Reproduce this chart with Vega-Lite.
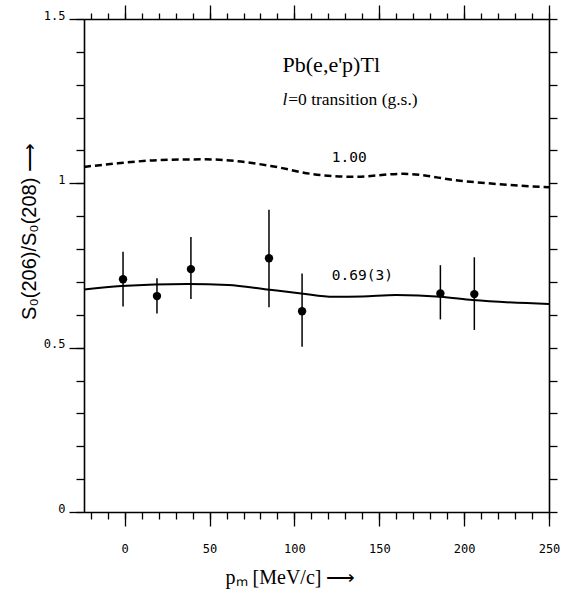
{
  "$schema": "https://vega.github.io/schema/vega-lite/v6.json",
  "width": 465,
  "height": 493,
  "autosize": "none",
  "padding": {"left": 84, "top": 19, "right": 20, "bottom": 86},
  "background": "white",
  "config": {
    "view": {"stroke": null},
    "axis": {"grid": false, "domainColor": "black", "tickColor": "black", "domainWidth": 1.6, "tickWidth": 1.3}
  },
  "resolve": {"axis": {"x": "independent", "y": "independent"}},
  "layer": [
    {
      "data": {"values": [
        {"pm": -1, "r": 0.708, "lo": 0.625, "hi": 0.792},
        {"pm": 19, "r": 0.657, "lo": 0.604, "hi": 0.711},
        {"pm": 39, "r": 0.739, "lo": 0.648, "hi": 0.837},
        {"pm": 85, "r": 0.772, "lo": 0.623, "hi": 0.92},
        {"pm": 104.5, "r": 0.611, "lo": 0.503, "hi": 0.726},
        {"pm": 186, "r": 0.665, "lo": 0.586, "hi": 0.751},
        {"pm": 206, "r": 0.663, "lo": 0.554, "hi": 0.775}
      ]},
      "mark": {"type": "rule", "color": "black", "strokeWidth": 1.5},
      "encoding": {
        "x": {"field": "pm", "type": "quantitative", "scale": {"domain": [-24, 250], "nice": false, "zero": false},
          "axis": {"orient": "bottom",
            "values": [-20,-10,0,10,20,30,40,50,60,70,80,90,100,110,120,130,140,150,160,170,180,190,200,210,220,230,240,250],
            "labels": false, "domain": false, "tickSize": 7, "title": null}},
        "y": {"field": "lo", "type": "quantitative", "scale": {"domain": [0, 1.5], "nice": false, "zero": false},
          "axis": {"orient": "left",
            "values": [0,0.1,0.2,0.3,0.4,0.5,0.6,0.7,0.8,0.9,1,1.1,1.2,1.3,1.4,1.5],
            "labels": false, "domain": false, "tickSize": 8, "title": null}},
        "y2": {"field": "hi"}
      }
    },
    {
      "data": {"values": [
        {"pm": -1, "r": 0.708},
        {"pm": 19, "r": 0.657},
        {"pm": 39, "r": 0.739},
        {"pm": 85, "r": 0.772},
        {"pm": 104.5, "r": 0.611},
        {"pm": 186, "r": 0.665},
        {"pm": 206, "r": 0.663}
      ]},
      "mark": {"type": "point", "filled": true, "shape": "circle", "size": 70, "color": "black", "opacity": 1},
      "encoding": {
        "x": {"field": "pm", "type": "quantitative", "scale": {"domain": [-24, 250], "nice": false, "zero": false},
          "axis": {"orient": "bottom",
            "values": [0, 50, 100, 150, 200, 250],
            "format": "d",
            "tickSize": 14,
            "labelFont": "DejaVu Sans Mono", "labelFontSize": 12, "labelColor": "black",
            "labelPadding": 17, "labelBaseline": "top", "labelFlush": false, "labelOverlap": false,
            "title": "pₘ [MeV/c] ⟶", "titleFont": "Liberation Serif", "titleFontSize": 20, "titleFontWeight": "normal",
            "titleColor": "black", "titleX": 206, "titleY": 71, "titleBaseline": "alphabetic", "titleAlign": "center"}},
        "y": {"field": "r", "type": "quantitative", "scale": {"domain": [0, 1.5], "nice": false, "zero": false},
          "axis": {"orient": "left",
            "values": [0, 0.5, 1, 1.5],
            "format": "~g",
            "tickSize": 15,
            "labelFont": "DejaVu Sans Mono", "labelFontSize": 12, "labelColor": "black",
            "labelPadding": 4, "labelBaseline": "alphabetic", "labelFlush": false, "labelOverlap": false,
            "title": "S₀(206)/S₀(208) ⟶", "titleFont": "Liberation Sans", "titleFontSize": 20, "titleFontWeight": "normal",
            "titleColor": "black", "titleX": -55, "titleY": 212, "titleBaseline": "middle", "titleAlign": "center", "titleAngle": -90}}
      }
    },
    {
      "data": {"values": [
        {"pm": -24, "r": 0.677},
        {"pm": -2, "r": 0.688},
        {"pm": 37, "r": 0.694},
        {"pm": 61, "r": 0.691},
        {"pm": 84, "r": 0.677},
        {"pm": 104, "r": 0.665},
        {"pm": 123, "r": 0.655},
        {"pm": 140, "r": 0.656},
        {"pm": 160, "r": 0.66},
        {"pm": 186, "r": 0.655},
        {"pm": 205, "r": 0.645},
        {"pm": 250, "r": 0.633}
      ]},
      "mark": {"type": "line", "color": "black", "strokeWidth": 2, "interpolate": "monotone"},
      "encoding": {
        "x": {"field": "pm", "type": "quantitative", "scale": {"domain": [-24, 250], "nice": false, "zero": false},
          "axis": {"orient": "top", "values": [0, 50, 100, 150, 200, 250], "labels": false, "tickSize": 14, "title": null}},
        "y": {"field": "r", "type": "quantitative", "scale": {"domain": [0, 1.5], "nice": false, "zero": false},
          "axis": {"orient": "right",
            "values": [0,0.1,0.2,0.3,0.4,0.5,0.6,0.7,0.8,0.9,1,1.1,1.2,1.3,1.4,1.5],
            "labels": false, "tickSize": 8, "title": null}}
      }
    },
    {
      "data": {"values": [
        {"pm": -24, "r": 1.05},
        {"pm": -4, "r": 1.061},
        {"pm": 21.5, "r": 1.071},
        {"pm": 47, "r": 1.073},
        {"pm": 65, "r": 1.068},
        {"pm": 86, "r": 1.053},
        {"pm": 111, "r": 1.028},
        {"pm": 135, "r": 1.02},
        {"pm": 164, "r": 1.029},
        {"pm": 197.5, "r": 1.008},
        {"pm": 227, "r": 0.995},
        {"pm": 250, "r": 0.988}
      ]},
      "mark": {"type": "line", "color": "black", "strokeWidth": 2.5, "strokeDash": [7, 4], "interpolate": "monotone"},
      "encoding": {
        "x": {"field": "pm", "type": "quantitative", "scale": {"domain": [-24, 250], "nice": false, "zero": false},
          "axis": {"orient": "top",
            "values": [-20,-10,0,10,20,30,40,50,60,70,80,90,100,110,120,130,140,150,160,170,180,190,200,210,220,230,240,250],
            "labels": false, "domain": false, "tickSize": 6, "title": null}},
        "y": {"field": "r", "type": "quantitative", "scale": {"domain": [0, 1.5], "nice": false, "zero": false}, "axis": null}
      }
    },
    {
      "data": {"values": [
        {"pm": 93, "r": 1.36, "t": "Pb(e,e'p)Tl"}
      ]},
      "mark": {"type": "text", "font": "Liberation Serif", "fontSize": 22, "align": "left", "baseline": "middle", "color": "black"},
      "encoding": {
        "x": {"field": "pm", "type": "quantitative", "scale": {"domain": [-24, 250], "nice": false, "zero": false}, "axis": null},
        "y": {"field": "r", "type": "quantitative", "scale": {"domain": [0, 1.5], "nice": false, "zero": false}, "axis": null},
        "text": {"field": "t"}
      }
    },
    {
      "data": {"values": [
        {"pm": 93, "r": 1.253, "t": "l"}
      ]},
      "mark": {"type": "text", "font": "Liberation Serif", "fontSize": 17.5, "fontStyle": "italic", "align": "left", "baseline": "middle", "color": "black"},
      "encoding": {
        "x": {"field": "pm", "type": "quantitative", "scale": {"domain": [-24, 250], "nice": false, "zero": false}, "axis": null},
        "y": {"field": "r", "type": "quantitative", "scale": {"domain": [0, 1.5], "nice": false, "zero": false}, "axis": null},
        "text": {"field": "t"}
      }
    },
    {
      "data": {"values": [
        {"pm": 96.3, "r": 1.253, "t": "=0 transition (g.s.)"}
      ]},
      "mark": {"type": "text", "font": "Liberation Serif", "fontSize": 17.5, "align": "left", "baseline": "middle", "color": "black"},
      "encoding": {
        "x": {"field": "pm", "type": "quantitative", "scale": {"domain": [-24, 250], "nice": false, "zero": false}, "axis": null},
        "y": {"field": "r", "type": "quantitative", "scale": {"domain": [0, 1.5], "nice": false, "zero": false}, "axis": null},
        "text": {"field": "t"}
      }
    },
    {
      "data": {"values": [
        {"pm": 122, "r": 1.077, "t": "1.00"},
        {"pm": 122, "r": 0.718, "t": "0.69(3)"}
      ]},
      "mark": {"type": "text", "font": "DejaVu Sans Mono", "fontSize": 14.5, "align": "left", "baseline": "middle", "color": "black"},
      "encoding": {
        "x": {"field": "pm", "type": "quantitative", "scale": {"domain": [-24, 250], "nice": false, "zero": false}, "axis": null},
        "y": {"field": "r", "type": "quantitative", "scale": {"domain": [0, 1.5], "nice": false, "zero": false}, "axis": null},
        "text": {"field": "t"}
      }
    }
  ]
}
